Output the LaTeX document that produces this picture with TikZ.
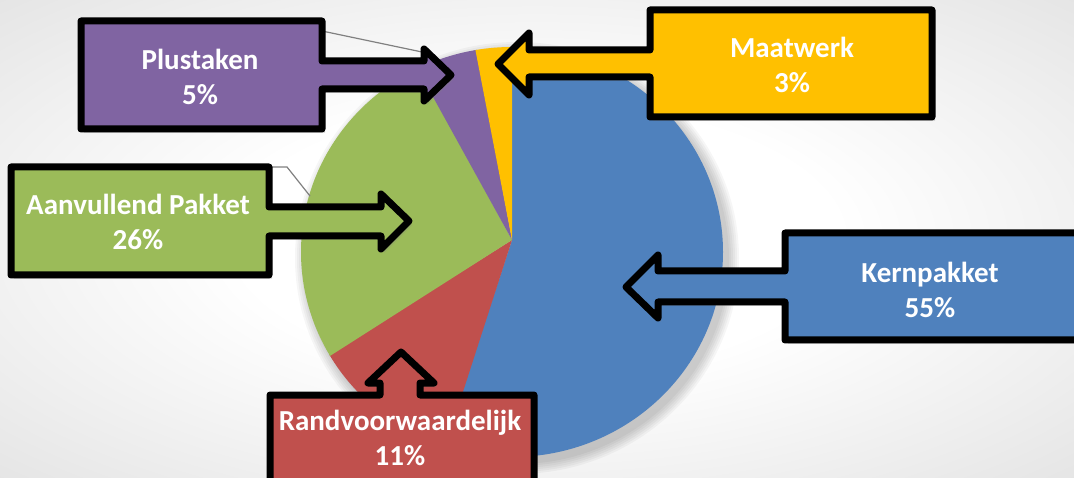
\documentclass[tikz,border=0pt]{standalone}
\usepackage{fontspec}
\setmainfont{Carlito}
\usetikzlibrary{shadows}
\definecolor{cblue}{HTML}{4F81BD}
\definecolor{cred}{HTML}{C0504D}
\definecolor{cgreen}{HTML}{9BBB59}
\definecolor{cpurple}{HTML}{8064A2}
\definecolor{cyellow}{HTML}{FFC000}
\pgfdeclareradialshading{bgshade}{\pgfpoint{0bp}{0bp}}{color(0bp)=(white); color(14bp)=(white); color(50bp)=(black!17); color(72bp)=(black!22)}
\begin{document}
\begin{tikzpicture}[x=1pt,y=-1pt,
  callout/.style={draw=black, line width=7pt, line join=round,
    drop shadow={opacity=0.25, shadow xshift=3pt, shadow yshift=-4pt}},
  lbl/.style={text=white, font=\bfseries\fontsize{29}{35}\selectfont, align=center},
  leader/.style={draw=black!50, line width=1.2pt}]
\useasboundingbox (0,0) rectangle (1074,478);
\clip (0,0) rectangle (1074,478);
\shade[shading=bgshade] (0,0) rectangle (1074,478);

% soft pie shadow
\foreach \o in {1,3,5,7,9,11}
  \fill[black, opacity=0.035] (517,258) ellipse [x radius={211pt+\o pt}, y radius={205pt+\o pt}];

% pie slices
\coordinate (apex) at (512,240);
\foreach \a/\b/\c in {0/198.3/cblue, 197.9/237.9/cred, 237.5/331.5/cgreen, 331.1/349.5/cpurple, 349.1/360/cyellow}{
  \pgfmathsetmacro{\m}{(\a+\b)/2}
  \begin{scope}
    \clip (apex) -- ({512+2000*sin(\a)},{240-2000*cos(\a)})
      -- ({512+2000*sin(\m)},{240-2000*cos(\m)})
      -- ({512+2000*sin(\b)},{240-2000*cos(\b)}) -- cycle;
    \fill[\c] (512,252) ellipse [x radius=211pt, y radius=205pt];
  \end{scope}
}

% leader lines
\coordinate (pl1) at (322,31);
\coordinate (pl2) at (422,52);
\draw[leader] (pl1) -- (pl2);
\coordinate (av1) at (269,167);
\coordinate (av2) at (287,167);
\coordinate (av3) at (310,196);
\draw[leader] (av1) -- (av2) -- (av3);

% callouts
\path[callout, fill=cpurple] (81,21) -- (322,21) -- (322,61) -- (424,61) -- (424,49)
  -- (451,75) -- (424,101) -- (424,89) -- (322,89) -- (322,129) -- (81,129) -- cycle;
\path[callout, fill=cgreen] (11,167) -- (269,167) -- (269,207) -- (381,207) -- (381,194)
  -- (409,221) -- (381,249) -- (381,236) -- (269,236) -- (269,275) -- (11,275) -- cycle;
\path[callout, fill=cyellow] (932,10) -- (650,10) -- (650,50) -- (529,50) -- (529,33)
  -- (498,64) -- (529,95) -- (529,77) -- (650,77) -- (650,117) -- (932,117) -- cycle;
\path[callout, fill=cblue] (1090,233) -- (785,233) -- (785,271) -- (658,271) -- (658,255)
  -- (626,287) -- (658,318) -- (658,302) -- (785,302) -- (785,340) -- (1090,340) -- cycle;
\path[callout, fill=cred] (270,500) -- (270,395) -- (380,395) -- (380,383) -- (368,383)
  -- (401,352) -- (434,383) -- (420,383) -- (420,395) -- (534,395) -- (534,500) -- cycle;

% labels
\node[lbl] (plus) at (200,77) {Plustaken\\5\%};
\node[lbl] (aanv) at (138,222) {Aanvullend Pakket\\26\%};
\node[lbl] (maat) at (792,65) {Maatwerk\\3\%};
\node[lbl] (kern) at (930,290) {Kernpakket\\55\%};
\node[lbl] (rand) at (400,438) {Randvoorwaardelijk\\11\%};
\end{tikzpicture}
\end{document}
